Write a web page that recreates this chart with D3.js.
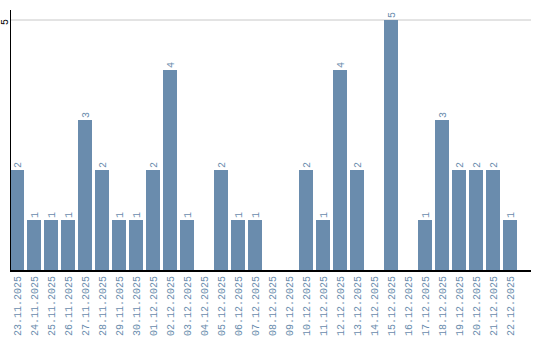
<!DOCTYPE html>
<html><head><meta charset="utf-8">
<script src="https://cdn.jsdelivr.net/npm/d3@7"></script>
<style>body{margin:0;background:#fff}svg{display:block}</style>
</head><body>
<script>
const dates = ["23.11.2025","24.11.2025","25.11.2025","26.11.2025","27.11.2025","28.11.2025","29.11.2025","30.11.2025","01.12.2025","02.12.2025","03.12.2025","04.12.2025","05.12.2025","06.12.2025","07.12.2025","08.12.2025","09.12.2025","10.12.2025","11.12.2025","12.12.2025","13.12.2025","14.12.2025","15.12.2025","16.12.2025","17.12.2025","18.12.2025","19.12.2025","20.12.2025","21.12.2025","22.12.2025"];
const counts = [2,1,1,1,3,2,1,1,2,4,1,0,2,1,1,0,0,2,1,4,2,0,5,0,1,3,2,2,2,1];
const yTicks = [5];

const W = 540, H = 340;
const m = {left:10, right:9, top:20, bottom:70};
const svg = d3.select("body").append("svg").attr("width", W).attr("height", H);
const color = "#6a8cad";
const font = "Liberation Mono, DejaVu Sans Mono, monospace";
const x = d3.scaleBand().domain(dates).range([m.left, 517]).paddingInner(3/17).paddingOuter(0);
const y = d3.scaleLinear().domain([0, 5]).range([H - m.bottom, m.top]);

// grid
svg.append("g").selectAll("line").data(yTicks).join("line")
  .attr("x1", m.left).attr("x2", W - m.right)
  .attr("y1", d => y(d)).attr("y2", d => y(d))
  .attr("stroke", "#c8c8c8").attr("stroke-width", 1);

// y tick labels
svg.append("g").selectAll("text").data(yTicks).join("text")
  .attr("transform", d => `translate(8,${y(d) + 2}) rotate(-90)`)
  .attr("text-anchor", "middle")
  .attr("font-family", font).attr("font-size", 10)
  .attr("fill", "#000").text(d => d);

// bars
svg.append("g").selectAll("rect").data(dates).join("rect")
  .attr("x", d => x(d)).attr("width", x.bandwidth())
  .attr("y", (d, i) => y(counts[i])).attr("height", (d, i) => y(0) - y(counts[i]))
  .attr("fill", color);

// value labels
svg.append("g").selectAll("text").data(dates.filter((d, i) => counts[i] > 0)).join("text")
  .attr("transform", d => `translate(${x(d) + x.bandwidth()/2 + 3.5},${y(counts[dates.indexOf(d)]) - 2}) rotate(-90)`)
  .attr("text-anchor", "start")
  .attr("font-family", font).attr("font-size", 10)
  .attr("fill", color).text(d => counts[dates.indexOf(d)]);

// x axis labels
svg.append("g").selectAll("text").data(dates).join("text")
  .attr("transform", d => `translate(${x(d) + x.bandwidth()/2 + 3.5},${y(0) + 6}) rotate(-90)`)
  .attr("text-anchor", "end")
  .attr("font-family", font).attr("font-size", 10)
  .attr("fill", color).text(d => d);

// axes lines
svg.append("line").attr("x1", m.left + 0.5).attr("x2", m.left + 0.5)
  .attr("y1", 10).attr("y2", y(0)).attr("stroke", "#000").attr("stroke-width", 1);
svg.append("line").attr("x1", m.left).attr("x2", W - m.right)
  .attr("y1", y(0) + 1).attr("y2", y(0) + 1).attr("stroke", "#000").attr("stroke-width", 2);
</script>
</body></html>
